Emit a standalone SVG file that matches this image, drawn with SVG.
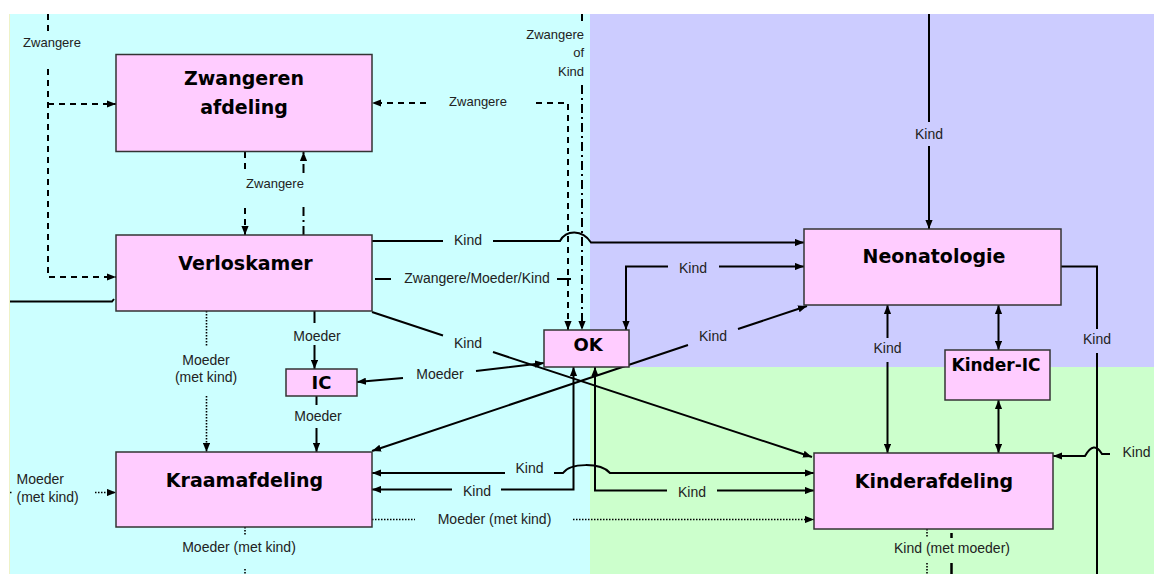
<svg xmlns="http://www.w3.org/2000/svg" width="1154" height="574" viewBox="0 0 1154 574">
<defs>
<style>
.nd rect{fill:#FFCCFF;stroke:#333;stroke-width:1.5}
.nt{font-family:"DejaVu Sans",Verdana,sans-serif;font-weight:bold;font-size:19px;text-anchor:middle;fill:#000}
.c{fill:none;stroke:#000;stroke-width:2}
.da{stroke-dasharray:6 5}
.dt{stroke-dasharray:1.5 1.5;stroke-width:1.6}
.dd{stroke-dasharray:9 4 2 4}
.lb{font-family:"Liberation Sans",Arial,sans-serif;font-size:14px;fill:#222;text-anchor:middle}
.sm{font-size:13px}
</style>
<marker id="a" viewBox="0 0 10 8" refX="10" refY="4" markerWidth="9" markerHeight="7.2" markerUnits="userSpaceOnUse" orient="auto-start-reverse"><path d="M0,0 L10,4 L0,8 z" fill="#000"/></marker>
</defs>
<rect width="1154" height="574" fill="#fff"/>
<g id="zones">
<rect x="10" y="14" width="580" height="560" fill="#CCFFFF"/>
<rect x="590" y="14" width="564" height="353" fill="#CCCCFF"/>
<rect x="590" y="367" width="564" height="207" fill="#CCFFCC"/>
<line x1="9.5" y1="14" x2="9.5" y2="574" stroke="#EEF2C8" stroke-width="1"/>
</g>
<g id="connectors">
<path class="c da" d="M48,14 V32 M48,69 V277 H116" marker-end="url(#a)"/>
<path class="c da" d="M48,104 H116" marker-end="url(#a)"/>
<path class="c da" d="M245,152 V173 M245,208 V235" marker-end="url(#a)"/>
<path class="c dd" d="M303.5,235 V205 M303.5,173 V152" marker-end="url(#a)"/>
<path class="c da" d="M568,330 V103 H533 M426,103 H372" marker-start="url(#a)" marker-end="url(#a)"/>
<path class="c dd" d="M582,14 V21 M582,85 V330" marker-end="url(#a)"/>
<path class="c" d="M372,241 H443 M493,241 H560 C566,230 582,229 591,242.5 H804" marker-end="url(#a)"/>
<path class="c" d="M375,279 H391 M557,279 H571"/>
<path class="c" d="M372,312 L443,335.5 M493,352 L812,457" marker-end="url(#a)"/>
<path class="c" d="M10,301.5 H112 L114,299"/>
<path class="c dt" d="M206.5,311 V347 M206.5,396 V452" marker-end="url(#a)"/>
<path class="c" d="M314.5,311 V323 M314.5,345 V369" marker-end="url(#a)"/>
<path class="c" d="M316.5,396 V405 M316.5,428 V452" marker-end="url(#a)"/>
<path class="c" d="M357,382 L403,378 M476,371 L544,363" marker-start="url(#a)" marker-end="url(#a)"/>
<path class="c" d="M626,330 V266.5 H668 M719,266.5 H804" marker-start="url(#a)" marker-end="url(#a)"/>
<path class="c" d="M372,451 L688,345 M738,329 L807,306" marker-start="url(#a)" marker-end="url(#a)"/>
<path class="c" d="M929,14 V122 M929,146 V229" marker-end="url(#a)"/>
<path class="c" d="M887.5,338 V305" marker-end="url(#a)"/>
<path class="c" d="M887.5,362 V453" marker-end="url(#a)"/>
<path class="c" d="M998.5,305 V350" marker-start="url(#a)" marker-end="url(#a)"/>
<path class="c" d="M998.5,400 V453" marker-start="url(#a)" marker-end="url(#a)"/>
<path class="c" d="M1061,266.5 H1097 V329 M1097,353 V574"/>
<path class="c" d="M1110,454 H1102 Q1094,440 1085,456 H1053" marker-end="url(#a)"/>
<path class="c" d="M372,473 H505 M554,473 H563 C570,463 600,462 610,473 H814" marker-start="url(#a)" marker-end="url(#a)"/>
<path class="c" d="M372,489.5 H452 M501,489.5 H573.5 V367" marker-start="url(#a)" marker-end="url(#a)"/>
<path class="c" d="M595,367 V490.5 H667 M717,490.5 H814" marker-start="url(#a)" marker-end="url(#a)"/>
<path class="c dt" d="M372,519.5 H415 M573,519.5 H814" marker-end="url(#a)"/>
<path class="c dt" d="M10,492.5 H12 M95,492.5 H116" marker-end="url(#a)"/>
<path class="c dt" d="M245,527 V536 M245,569 V574"/>
<path class="c dt" d="M927,529 V537 M927,563 V574"/>
<path class="c" style="stroke-width:2.5" d="M951.5,533 V538 M951.5,563 V574"/>
</g>
<g id="labels">
<text class="lb sm" x="52" y="47">Zwangere</text>
<text class="lb sm" x="275" y="187.5">Zwangere</text>
<text class="lb sm" x="478" y="106">Zwangere</text>
<text class="lb sm" x="584" y="38.5" style="text-anchor:end">Zwangere</text>
<text class="lb sm" x="584" y="57" style="text-anchor:end">of</text>
<text class="lb sm" x="584" y="75.5" style="text-anchor:end">Kind</text>
<text class="lb" x="468" y="244.5">Kind</text>
<text class="lb" x="477" y="283">Zwangere/Moeder/Kind</text>
<text class="lb" x="468" y="347.5">Kind</text>
<text class="lb" x="206" y="364.5">Moeder</text>
<text class="lb" x="206" y="381.5">(met kind)</text>
<text class="lb" x="317" y="341">Moeder</text>
<text class="lb" x="318" y="420.5">Moeder</text>
<text class="lb" x="440" y="379">Moeder</text>
<text class="lb" x="693" y="272.5">Kind</text>
<text class="lb" x="713" y="341">Kind</text>
<text class="lb" x="929" y="138.5">Kind</text>
<text class="lb" x="887.5" y="353">Kind</text>
<text class="lb" x="1097" y="344">Kind</text>
<text class="lb" x="1122.5" y="457" style="text-anchor:start">Kind</text>
<text class="lb" x="529.5" y="473">Kind</text>
<text class="lb" x="477" y="496">Kind</text>
<text class="lb" x="692" y="496.5">Kind</text>
<text class="lb" x="494.5" y="523.5">Moeder (met kind)</text>
<text class="lb" x="239" y="552">Moeder (met kind)</text>
<text class="lb" x="16.5" y="483.5" style="text-anchor:start">Moeder</text>
<text class="lb" x="16.5" y="501.5" style="text-anchor:start">(met kind)</text>
<text class="lb" x="952" y="553">Kind (met moeder)</text>
</g>
<g id="zwangeren" class="nd"><rect x="116" y="54.5" width="256" height="97"/><text class="nt" x="244" y="85">Zwangeren</text><text class="nt" x="244" y="114">afdeling</text></g>
<g id="verloskamer" class="nd"><rect x="116" y="235" width="256" height="76"/><text class="nt" x="245.5" y="270">Verloskamer</text></g>
<g id="ic" class="nd"><rect x="286" y="369" width="71" height="27"/><text class="nt" x="321.5" y="389" style="font-size:18px">IC</text></g>
<g id="kraamafdeling" class="nd"><rect x="116" y="452" width="256" height="75"/><text class="nt" x="244.5" y="487">Kraamafdeling</text></g>
<g id="ok" class="nd"><rect x="544" y="330" width="85" height="37"/><text class="nt" x="588" y="350.5" style="font-size:18px">OK</text></g>
<g id="neonatologie" class="nd"><rect x="804" y="229" width="257" height="76"/><text class="nt" x="934" y="263" textLength="143">Neonatologie</text></g>
<g id="kinderic" class="nd"><rect x="945" y="350" width="105" height="50"/><text class="nt" x="996" y="371" style="font-size:17px">Kinder-IC</text></g>
<g id="kinderafdeling" class="nd"><rect x="814" y="453" width="239" height="76"/><text class="nt" x="934" y="488">Kinderafdeling</text></g>
</svg>
